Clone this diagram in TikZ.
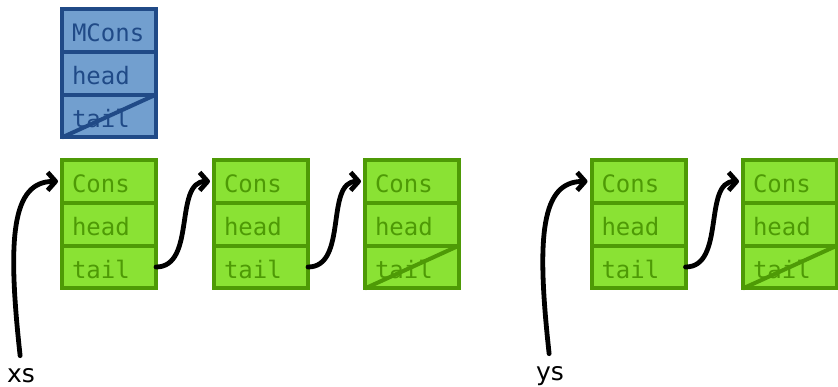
\documentclass[tikz,border=0pt]{standalone}
\usepackage{fontspec}
\setmainfont{DejaVu Sans}
\newfontfamily\cellfont{DejaVu Sans Mono}
\usetikzlibrary{arrows.meta,positioning}
\definecolor{mfill}{HTML}{729FCF}
\definecolor{mline}{HTML}{204A87}
\definecolor{cfill}{HTML}{8AE234}
\definecolor{cline}{HTML}{4E9A06}
\tikzset{
  cell/.style={draw, line width=2pt, outer sep=0pt, minimum height=21.4pt,
    text width=37pt, inner xsep=5pt, inner ysep=0pt, align=left,
    text height=11pt, text depth=0pt, font=\cellfont\fontsize{12}{14}\selectfont},
  mcell/.style={cell, fill=mfill, draw=mline, text=mline},
  ccell/.style={cell, fill=cfill, draw=cline, text=cline},
  ptr/.style={line width=2.4pt, line cap=round,
    -{Straight Barb[length=4pt,width=9pt,line join=round]}, shorten >=2pt, shorten <=4pt},
  var/.style={font=\fontsize{12.5}{14}\selectfont, inner sep=2pt},
}
\begin{document}
\begin{tikzpicture}[x=0.5pt,y=-0.5pt]
    \useasboundingbox (0,0) rectangle (838,386);
    \fill[white] (0,0) rectangle (838,386);

    % the mutable cell
    \node[mcell] (m1) at (109,30.4) {MCons};
    \node[mcell,below=0pt of m1] (m2) {head};
    \node[mcell,below=0pt of m2] (m3) {tail};
    \draw[line width=2pt,mline] (m3.south west) -- (m3.north east);

    % xs
    \node[ccell] (a1) at (109,181.4) {Cons};
    \node[ccell,below=0pt of a1] (a2) {head};
    \node[ccell,below=0pt of a2] (a3) {tail};

    \node[ccell] (b1) at (261,181.4) {Cons};
    \node[ccell,below=0pt of b1] (b2) {head};
    \node[ccell,below=0pt of b2] (b3) {tail};

    \node[ccell] (c1) at (412,181.4) {Cons};
    \node[ccell,below=0pt of c1] (c2) {head};
    \node[ccell,below=0pt of c2] (c3) {tail};
    \draw[line width=2pt,cline] (c3.south west) -- (c3.north east);

    % ys
    \node[ccell] (d1) at (638.5,181.4) {Cons};
    \node[ccell,below=0pt of d1] (d2) {head};
    \node[ccell,below=0pt of d2] (d3) {tail};

    \node[ccell] (e1) at (790,181.4) {Cons};
    \node[ccell,below=0pt of e1] (e2) {head};
    \node[ccell,below=0pt of e2] (e3) {tail};
    \draw[line width=2pt,cline] (e3.south west) -- (e3.north east);

    \node[var,anchor=base] (xs) at (21,382) {xs};
    \node[var,anchor=base] (ys) at (550,380) {ys};

    \draw[ptr] (xs.north) .. controls +(-14,-127) and +(-50,0) .. (a1.west);
    \draw[ptr] (ys.north) .. controls +(-14,-127) and +(-50,0) .. (d1.west);
    \draw[ptr,shorten <=0pt] (a3.east) to[out=0,in=180] (b1.west);
    \draw[ptr,shorten <=0pt] (b3.east) to[out=0,in=180] (c1.west);
    \draw[ptr,shorten <=0pt] (d3.east) to[out=0,in=180] (e1.west);
\end{tikzpicture}
\end{document}
